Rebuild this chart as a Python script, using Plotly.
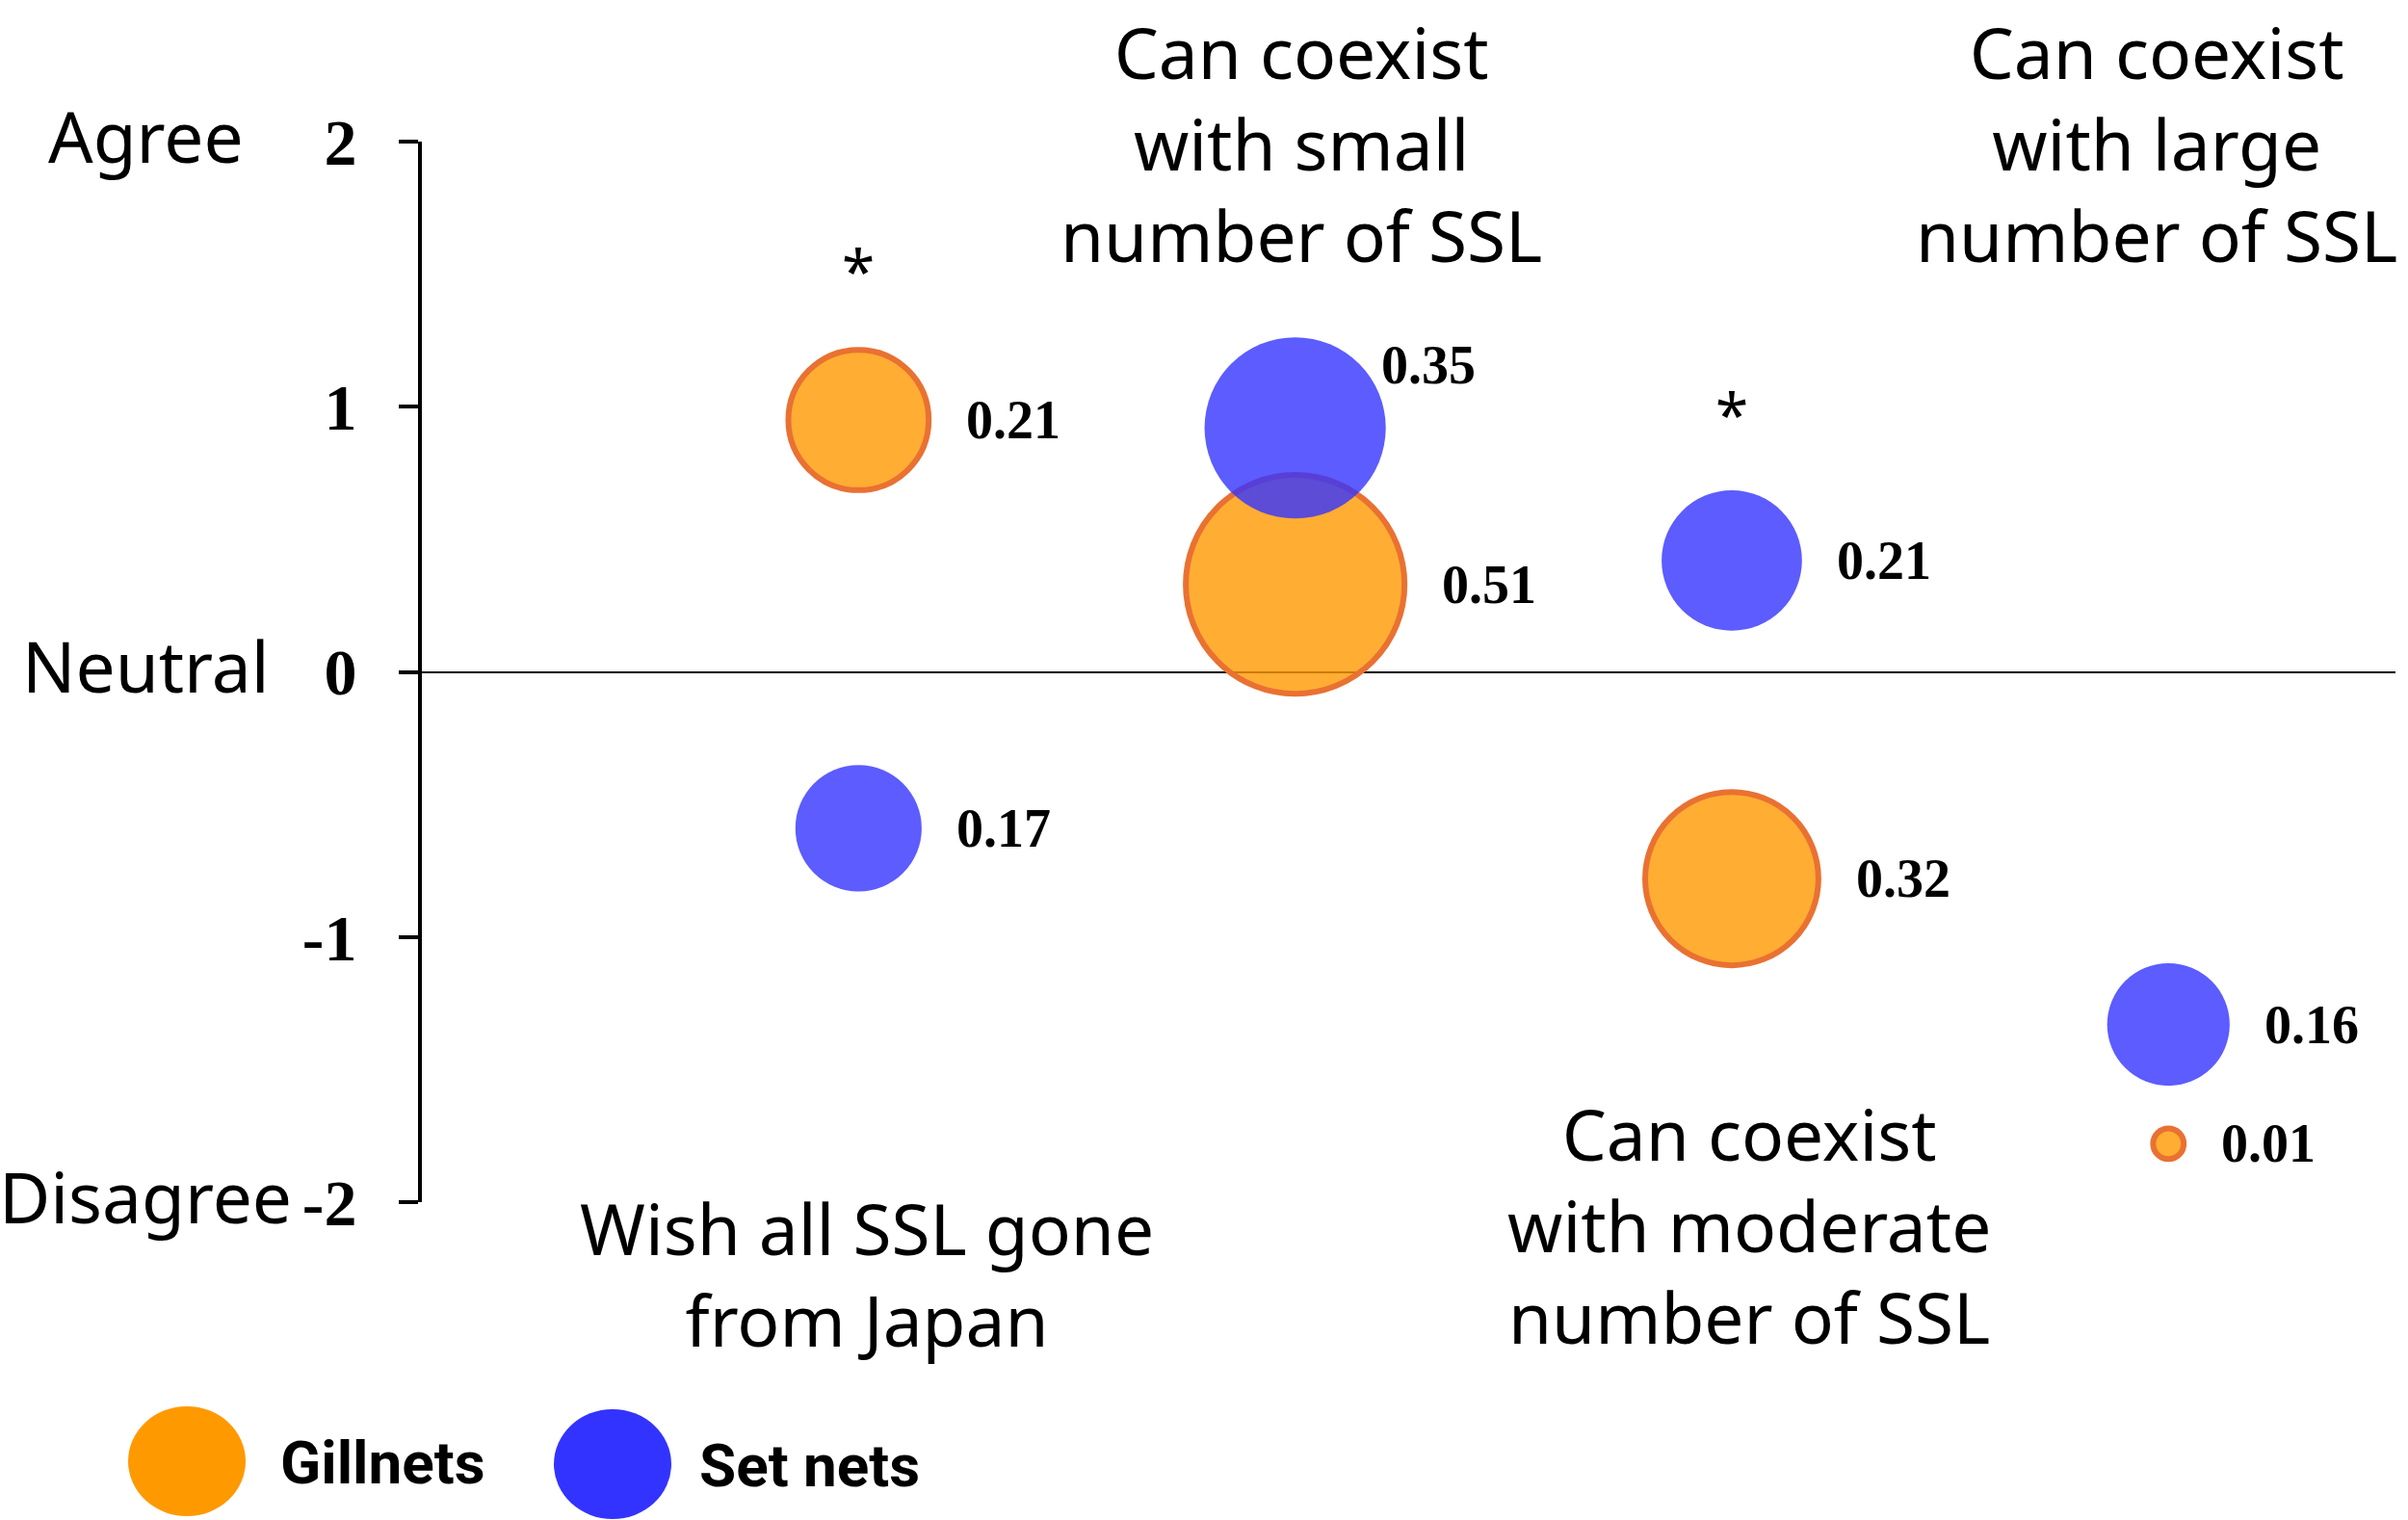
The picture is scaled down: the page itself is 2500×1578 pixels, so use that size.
import numpy as np
import plotly.graph_objects as go

# ---------------- data ----------------
categories = ["Wish all SSL gone<br>from Japan",
              "Can coexist<br>with small<br>number of SSL",
              "Can coexist<br>with moderate<br>number of SSL",
              "Can coexist<br>with large<br>number of SSL"]
cat_x = [1, 2, 3, 4]
label_side = ["bottom", "top", "bottom", "top"]      # where category text sits

gill_y = [0.95, 0.33, -0.78, -1.78]    # mean agreement, Gillnets
gill_v = [0.21, 0.51, 0.32, 0.01]      # bubble value, Gillnets
set_y = [-0.59, 0.92, 0.42, -1.33]     # mean agreement, Set nets
set_v = [0.17, 0.35, 0.21, 0.16]       # bubble value, Set nets
significant = [True, False, True, False]

y_ticks = [-2, -1, 0, 1, 2]
y_ticktext = ["-2", "-1", "0", "1", "2"]
y_names = {2: "Agree", 0: "Neutral", -2: "Disagree"}

# ---------------- style ----------------
W, H = 2500, 1578
ML, MR, MT, MB = 438, 13, 147, 330
PW, PH = W - ML - MR, H - MT - MB
K = 318.0                                # px diameter for value 1
SIZEREF = 2.0 / K ** 2
GILL_FILL = "rgba(255,153,0,0.8)"
GILL_LINE = "#E97132"
GILL_LW = 6
SET_FILL = "rgba(51,51,255,0.8)"
SANS = "Noto Sans"
SERIF = "Liberation Serif"
SANS_SIZE = 73


def px_x(p):
    return (p - ML) / PW


def px_y(p):
    return (MT + PH - p) / PH


fig = go.Figure()
fig.add_trace(go.Scatter(
    x=cat_x, y=gill_y, mode="markers", name="Gillnets",
    marker=dict(size=gill_v, sizemode="area", sizeref=SIZEREF, sizemin=0, opacity=1,
                color=GILL_FILL, line=dict(color=GILL_LINE, width=GILL_LW)),
    showlegend=False, cliponaxis=False))
fig.add_trace(go.Scatter(
    x=cat_x, y=set_y, mode="markers", name="Set nets",
    marker=dict(size=set_v, sizemode="area", sizeref=SIZEREF, sizemin=0, opacity=1,
                color=SET_FILL, line=dict(width=0)),
    showlegend=False, cliponaxis=False))

ann = []
# value labels next to bubbles
nudge = {("set", 1): dict(dx=-41, dy=65)}
for key, ys, vs, extra in (("gill", gill_y, gill_v, GILL_LW / 2), ("set", set_y, set_v, 0)):
    for i, (x, y, v) in enumerate(zip(cat_x, ys, vs)):
        r = K * np.sqrt(v) / 2 + extra
        n = nudge.get((key, i), dict(dx=0, dy=0))
        ann.append(dict(x=x, y=y, xref="x", yref="y", text=f"{v:.2f}",
                        xanchor="left", yanchor="middle", showarrow=False,
                        xshift=r + 34 + n["dx"], yshift=n["dy"],
                        font=dict(family=SERIF, size=56, color="black", weight="bold")))

# significance asterisks above the upper bubble
for i, s in enumerate(significant):
    if not s:
        continue
    if gill_y[i] >= set_y[i]:
        y, r = gill_y[i], K * np.sqrt(gill_v[i]) / 2 + GILL_LW / 2
    else:
        y, r = set_y[i], K * np.sqrt(set_v[i]) / 2
    ann.append(dict(x=cat_x[i], y=y, xref="x", yref="y", text="*",
                    xanchor="center", yanchor="middle", showarrow=False,
                    yshift=r + 80, font=dict(family=SANS, size=62, color="black")))

# category labels
cat_shift = [9, 6, 18, -12]
for i, (x, t, side) in enumerate(zip(cat_x, categories, label_side)):
    nlines = t.count("<br>") + 1
    if side == "top":
        ycen = 148
    else:
        ycen = 1322 if nlines == 2 else 1271
    ann.append(dict(x=x, y=px_y(ycen), xref="x", yref="paper", text=t,
                    xanchor="center", yanchor="middle", showarrow=False,
                    xshift=cat_shift[i], align="center",
                    font=dict(family=SANS, size=SANS_SIZE, color="black")))

# Agree / Neutral / Disagree
for yv, name in y_names.items():
    ann.append(dict(x=px_x(151), y=yv, xref="paper", yref="y", text=name,
                    xanchor="center", yanchor="middle", showarrow=False, yshift=7,
                    font=dict(family=SANS, size=SANS_SIZE, color="black")))

# legend (drawn manually to match large legend keys)
legend_items = [("Gillnets", "#FF9900", 194, 1517, 289),
                ("Set nets", "#3333FF", 636, 1520, 724)]
shapes = []
for name, col, cx, cy, tx in legend_items:
    shapes.append(dict(type="circle", xref="paper", yref="paper",
                       x0=px_x(cx - 61), x1=px_x(cx + 61),
                       y0=px_y(cy + 57), y1=px_y(cy - 57),
                       fillcolor=col, line=dict(width=0)))
    ann.append(dict(x=px_x(tx), y=px_y(cy + 1), xref="paper", yref="paper", text=name,
                    xanchor="left", yanchor="middle", showarrow=False,
                    font=dict(family="Roboto", size=62, color="black", weight="bold")))

fig.update_layout(
    width=W, height=H,
    margin=dict(l=ML, r=MR, t=MT, b=MB),
    paper_bgcolor="white", plot_bgcolor="white",
    annotations=ann, shapes=shapes, showlegend=False,
    xaxis=dict(range=[0, 4.52], visible=False, showgrid=False, zeroline=False),
    yaxis=dict(range=[-2, 2], tickvals=y_ticks, ticktext=y_ticktext,
               ticks="outside", ticklen=20, tickwidth=4, tickcolor="black",
               showline=True, linewidth=4, linecolor="black",
               showgrid=False, zeroline=True, zerolinecolor="black", zerolinewidth=2,
               ticklabelstandoff=30,
               tickfont=dict(family=SERIF, size=68, color="black", weight="bold")),
)

fig.write_html("out.html", config={"displayModeBar": False},
               post_script="document.body.style.margin='0';document.body.style.overflow='hidden';")
